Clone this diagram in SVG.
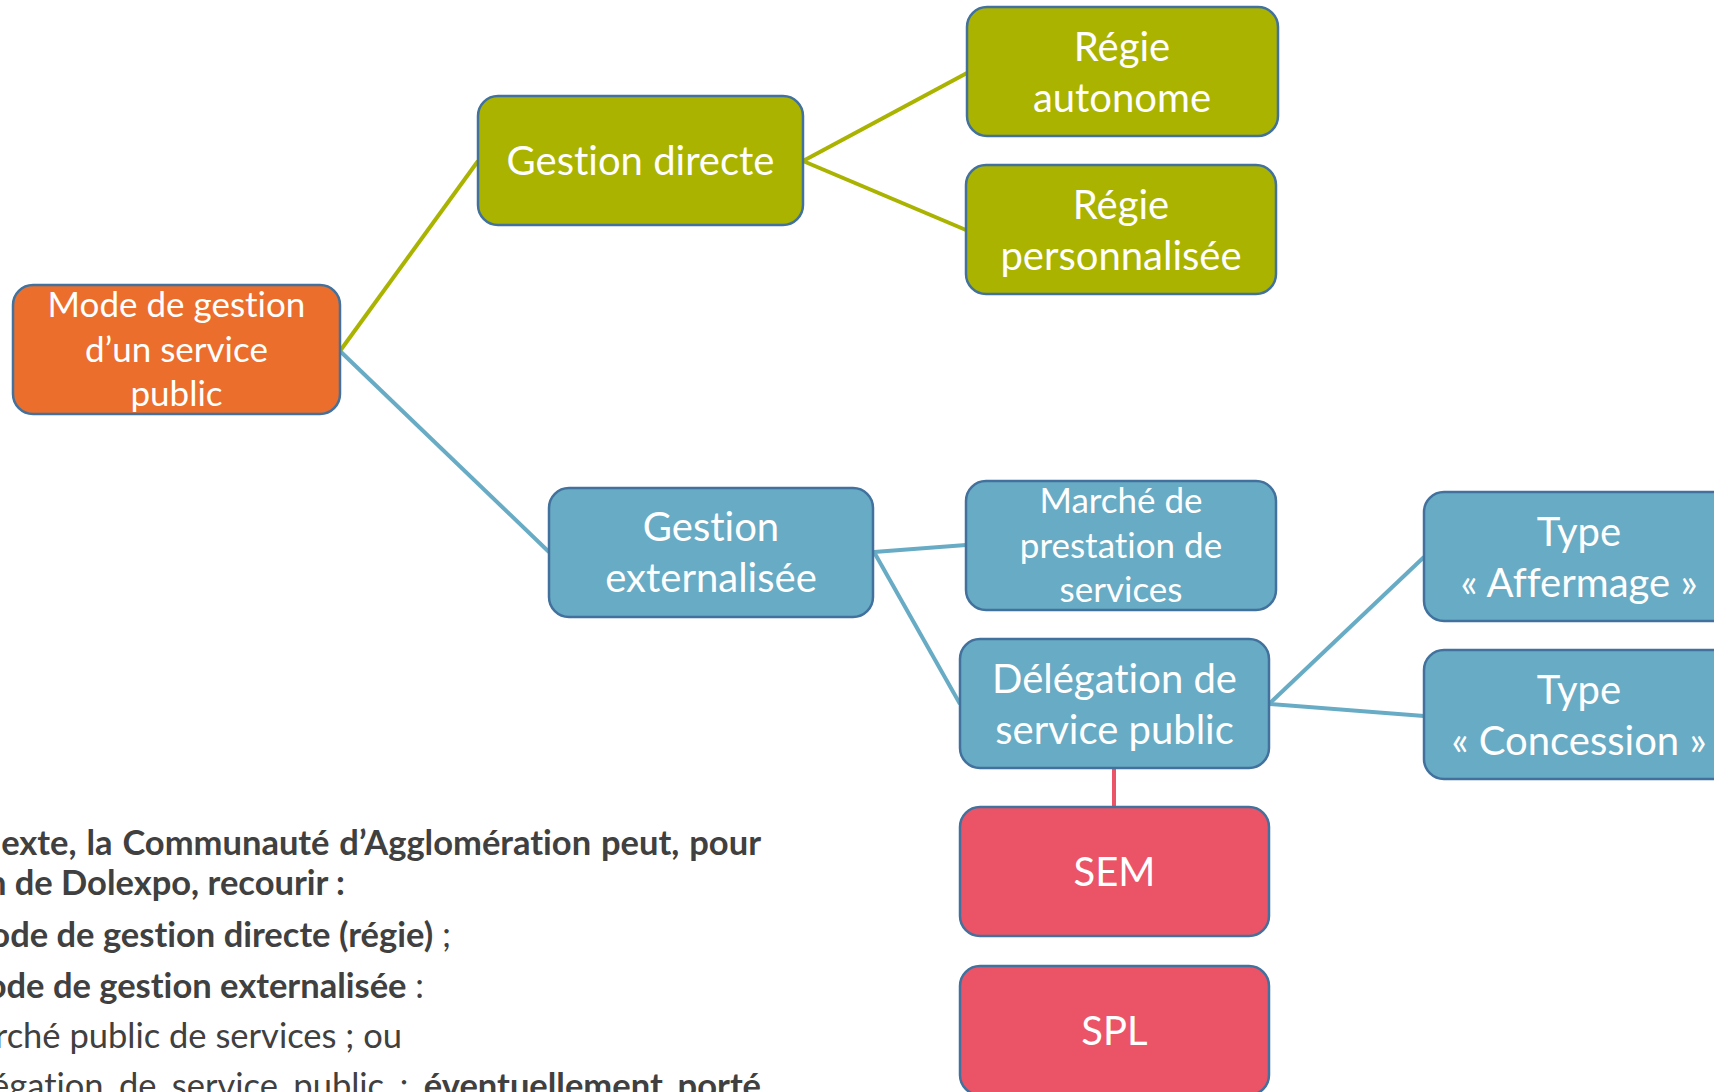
<svg xmlns="http://www.w3.org/2000/svg" width="1714" height="1092" viewBox="0 0 1714 1092">
<style>
.box{stroke:#41719C;stroke-width:2.5}
.or{fill:#EB6E2C}.gr{fill:#A9B300}.bl{fill:#68ABC5}.rd{fill:#EB5467}
text{font-variant-ligatures:none}
.t{font-family:Lato,"Open Sans","DejaVu Sans",sans-serif;fill:#fff;text-anchor:middle}
.big{font-size:40px}.mid{font-size:35px}
.cg{stroke:#A9B300;stroke-width:4;fill:none}
.cb{stroke:#68ABC5;stroke-width:4;fill:none}
.cr{stroke:#EB5467;stroke-width:4;fill:none}
.body{font-family:Lato,"Open Sans","DejaVu Sans",sans-serif;font-size:34.5px;fill:#404040;text-anchor:end}
.b{font-weight:bold}
</style>
<rect width="1714" height="1092" fill="#fff"/>
<g id="connectors">
<line class="cg" x1="340" y1="351" x2="478" y2="161"/>
<line class="cg" x1="803" y1="161" x2="967" y2="73"/>
<line class="cg" x1="803" y1="161" x2="966" y2="230"/>
<line class="cb" x1="340" y1="351" x2="549" y2="552"/>
<line class="cb" x1="874" y1="552" x2="966" y2="545"/>
<line class="cb" x1="874" y1="552" x2="960" y2="704"/>
<line class="cb" x1="1269" y1="704" x2="1424" y2="557"/>
<line class="cb" x1="1269" y1="704" x2="1424" y2="716"/>
<line class="cr" x1="1114" y1="768" x2="1114" y2="807"/>
</g>
<g id="mode">
<rect class="box or" x="13" y="285" width="327" height="129" rx="20"/>
<text class="t mid" x="176.5" y="317">Mode de gestion</text>
<text class="t mid" x="176.5" y="362">d’un service</text>
<text class="t mid" x="176.5" y="406">public</text>
</g>
<g id="gestion-directe">
<rect class="box gr" x="478" y="96" width="325" height="129" rx="20"/>
<text class="t big" x="640.5" y="175">Gestion directe</text>
</g>
<g id="regie-autonome">
<rect class="box gr" x="967" y="7" width="311" height="129" rx="20"/>
<text class="t big" x="1122" y="61">Régie</text>
<text class="t big" x="1122" y="112">autonome</text>
</g>
<g id="regie-personnalisee">
<rect class="box gr" x="966" y="165" width="310" height="129" rx="20"/>
<text class="t big" x="1121" y="219">Régie</text>
<text class="t big" x="1121" y="270">personnalisée</text>
</g>
<g id="gestion-externalisee">
<rect class="box bl" x="549" y="488" width="324" height="129" rx="20"/>
<text class="t big" x="711" y="541">Gestion</text>
<text class="t big" x="711" y="592">externalisée</text>
</g>
<g id="marche">
<rect class="box bl" x="966" y="481" width="310" height="129" rx="20"/>
<text class="t mid" x="1121" y="513">Marché de</text>
<text class="t mid" x="1121" y="558">prestation de</text>
<text class="t mid" x="1121" y="602">services</text>
</g>
<g id="delegation">
<rect class="box bl" x="960" y="639" width="309" height="129" rx="20"/>
<text class="t big" x="1114.5" y="693">Délégation de</text>
<text class="t big" x="1114.5" y="744">service public</text>
</g>
<g id="affermage">
<rect class="box bl" x="1424" y="492" width="310" height="129" rx="20"/>
<text class="t big" x="1579" y="546">Type</text>
<text class="t big" x="1579" y="597">« Affermage »</text>
</g>
<g id="concession">
<rect class="box bl" x="1424" y="650" width="310" height="129" rx="20"/>
<text class="t big" x="1579" y="704">Type</text>
<text class="t big" x="1579" y="755">« Concession »</text>
</g>
<g id="sem">
<rect class="box rd" x="960" y="807" width="309" height="129" rx="20"/>
<text class="t big" x="1114.5" y="886">SEM</text>
</g>
<g id="spl">
<rect class="box rd" x="960" y="966" width="309" height="129" rx="20"/>
<text class="t big" x="1114.5" y="1045">SPL</text>
</g>
<g id="body-text">
<text class="body b" x="761" y="855" style="word-spacing:1.5px">exte, la Communauté d’Agglomération peut, pour</text>
<text class="body b" x="345" y="895">n de Dolexpo, recourir :</text>
<text class="body" x="451" y="947"><tspan class="b">ode de gestion directe (régie)</tspan> ;</text>
<text class="body" x="424" y="998"><tspan class="b">ode de gestion externalisée</tspan> :</text>
<text class="body" x="402" y="1048">rché public de services ; ou</text>
<text class="body" x="761" y="1098" style="word-spacing:6.5px">égation de service public ; <tspan class="b">éventuellement porté</tspan></text>
</g>
</svg>
